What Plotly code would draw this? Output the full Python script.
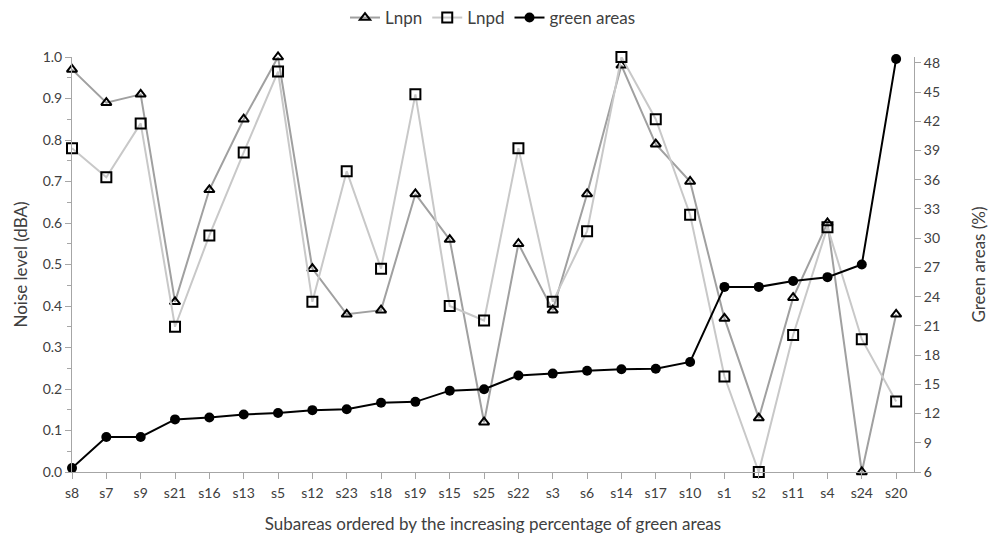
import plotly.graph_objects as go

categories = ["s8", "s7", "s9", "s21", "s16", "s13", "s5", "s12", "s23", "s18", "s19", "s15", "s25",
              "s22", "s3", "s6", "s14", "s17", "s10", "s1", "s2", "s11", "s4", "s24", "s20"]
lnpn = [0.97, 0.89, 0.91, 0.41, 0.68, 0.85, 1.0, 0.49, 0.38, 0.39, 0.67, 0.56, 0.12,
        0.55, 0.39, 0.67, 0.98, 0.79, 0.70, 0.37, 0.13, 0.42, 0.60, 0.0, 0.38]
lnpd = [0.78, 0.71, 0.84, 0.35, 0.57, 0.77, 0.965, 0.41, 0.725, 0.49, 0.91, 0.40, 0.365,
        0.78, 0.41, 0.58, 1.0, 0.85, 0.62, 0.23, 0.0, 0.33, 0.59, 0.32, 0.17]
green = [6.4, 9.6, 9.6, 11.4, 11.6, 11.9, 12.05, 12.35, 12.45, 13.1, 13.2, 14.35, 14.5,
         15.9, 16.1, 16.4, 16.55, 16.6, 17.3, 25.0, 25.0, 25.6, 26.0, 27.3, 48.4]

FONT = "Lato"
idx = list(range(len(categories)))

fig = go.Figure()
fig.add_trace(go.Scatter(
    x=idx, y=lnpn, name="Lnpn", mode="lines+markers", cliponaxis=False,
    line=dict(color="#a0a0a0", width=2),
    marker=dict(symbol="triangle-up-open", size=9, color="black", line=dict(width=2, color="black")),
))
fig.add_trace(go.Scatter(
    x=idx, y=lnpd, name="Lnpd", mode="lines+markers", cliponaxis=False,
    line=dict(color="#c8c8c8", width=2),
    marker=dict(symbol="square-open", size=10, color="black", line=dict(width=2, color="black")),
))
fig.add_trace(go.Scatter(
    x=idx, y=green, name="green areas", mode="lines+markers", yaxis="y2", cliponaxis=False,
    line=dict(color="black", width=2),
    marker=dict(symbol="circle", size=10, color="black"),
))

axis_col = "#a6a6a6"
txt = "#404040"
fig.update_layout(
    width=990, height=538,
    margin=dict(l=72, r=76, t=57, b=66, autoexpand=False),
    paper_bgcolor="white", plot_bgcolor="white",
    font=dict(family=FONT, size=14, color=txt),
    showlegend=True,
    legend=dict(orientation="h", x=0.5, xanchor="center", y=1.094, yanchor="middle",
                font=dict(size=17, color=txt), traceorder="normal"),
    xaxis=dict(
        range=[0, 24.52], tickmode="array", tickvals=idx, ticktext=categories,
        showgrid=False, zeroline=False, showline=True, linecolor=axis_col, linewidth=1,
        ticks="outside", ticklen=6, tickcolor=axis_col, automargin=False,
        tickfont=dict(size=14, color=txt), ticklabelstandoff=2,
        title=dict(text="Subareas ordered by the increasing percentage of green areas",
                   font=dict(size=17, color=txt), standoff=18),
    ),
    yaxis=dict(
        range=[0, 1.0], dtick=0.1, tickformat=".1f", automargin=False,
        showgrid=False, zeroline=False, showline=True, linecolor=axis_col, linewidth=1,
        ticks="outside", ticklen=6, tickcolor=axis_col,
        minor=dict(dtick=0.05, ticks="outside", ticklen=4, tickcolor=axis_col),
        tickfont=dict(size=14, color=txt),
        title=dict(text="Noise level (dBA)", font=dict(size=17, color=txt), standoff=10),
    ),
    yaxis2=dict(
        overlaying="y", side="right", range=[6, 48.6], tickvals=list(range(6, 49, 3)),
        showgrid=False, zeroline=False, showline=True, linecolor=axis_col, linewidth=1,
        ticks="outside", ticklen=6, tickcolor=axis_col, automargin=False,
        tickfont=dict(size=14, color=txt),
        title=dict(text="Green areas (%)", font=dict(size=17, color=txt), standoff=34),
    ),
)

fig.write_html("out.html")
